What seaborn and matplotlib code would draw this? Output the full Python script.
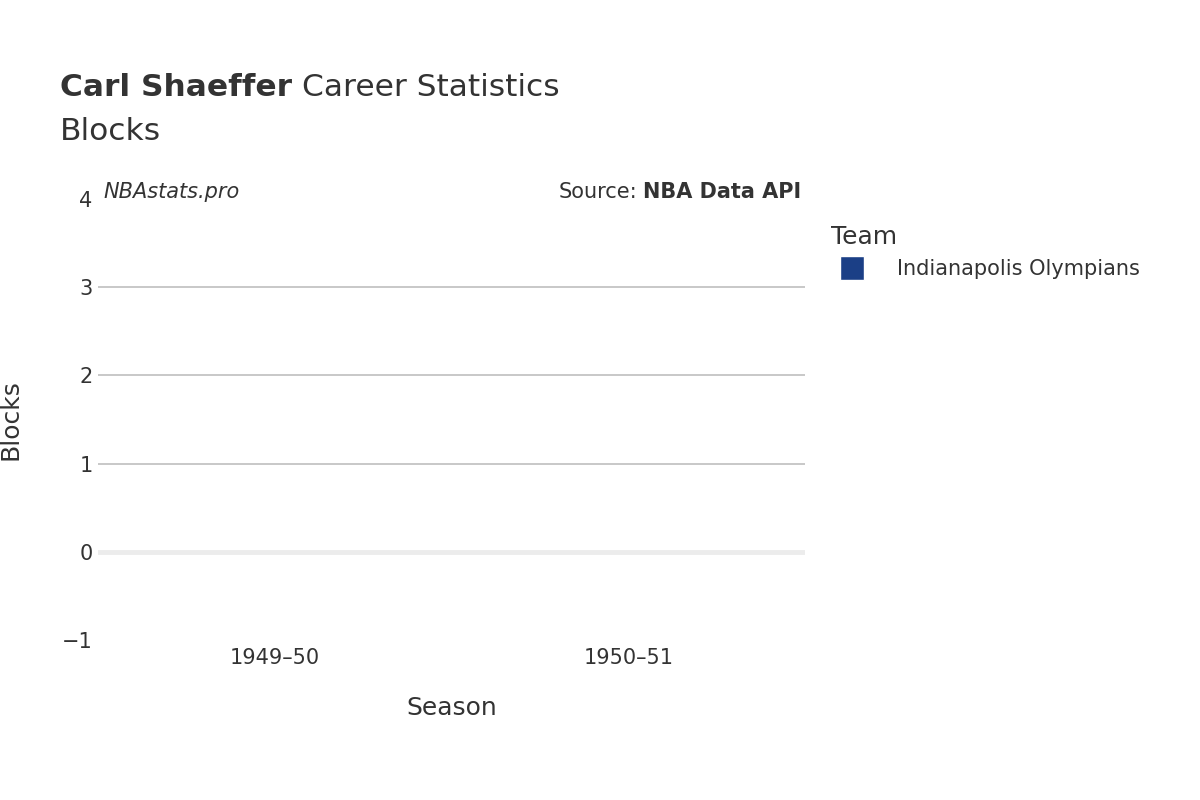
import matplotlib
matplotlib.use("Agg")
import matplotlib.pyplot as plt
import pandas as pd
import seaborn as sns
from matplotlib.lines import Line2D

seasons = ["1949\u201350", "1950\u201351"]
teams = ["Indianapolis Olympians", "Indianapolis Olympians"]
blocks = [0, 0]
team_colors = {"Indianapolis Olympians": "#1b3f86"}

df = pd.DataFrame({"Season": seasons, "Team": teams, "Blocks": blocks})

sns.set_theme(style="white", font="DejaVu Sans")
fig = plt.figure(figsize=(12, 8), dpi=100)
ax = fig.add_axes([98 / 1200, 0.2, 707 / 1200, 0.55125])

sns.barplot(data=df, x="Season", y="Blocks", hue="Team", palette=team_colors,
            ax=ax, legend=False, width=0.8, linewidth=0)

ax.set_ylim(-1, 4)
ax.set_yticks([-1, 0, 1, 2, 3, 4])
ax.set_yticklabels(["\u22121", "0", "1", "2", "3", "4"])
for y in [1, 2, 3]:
    ax.axhline(y, color="#c4c4c4", linewidth=1.3, zorder=0)
ax.axhline(0, color="#ececec", linewidth=3.5, zorder=3)
for s in ax.spines.values():
    s.set_visible(False)
ax.tick_params(axis="both", length=0, labelsize=15, colors="#333333", pad=4)
ax.tick_params(axis="x", pad=6)
ax.set_xlabel("Season", fontsize=18, color="#333333", labelpad=20)
ax.set_ylabel("Blocks", fontsize=18, color="#333333", labelpad=28)

ax.text(0.008, 1.015, "NBAstats.pro", transform=ax.transAxes, fontsize=15,
        style="italic", color="#333333", va="center", ha="left")
src = ax.text(0.995, 1.015, "NBA Data API", transform=ax.transAxes, fontsize=15,
              weight="bold", color="#333333", va="center", ha="right")

# title
t1 = fig.text(60 / 1200, 1 - 88 / 800, "Carl Shaeffer", fontsize=22.5, weight="bold",
              color="#333333", va="center")
fig.canvas.draw()
r = fig.canvas.get_renderer()
bb = t1.get_window_extent(r)
fig.text(bb.x1 / 1200 + 0.008, 1 - 88 / 800, "Career Statistics", fontsize=22.5,
         color="#333333", va="center")
fig.text(60 / 1200, 1 - 132 / 800, "Blocks", fontsize=22.5, color="#333333", va="center")
sb = src.get_window_extent(r)
fig.text(sb.x0 / 1200 - 0.005, (sb.y0 + sb.y1) / 1600, "Source:",
         fontsize=15, color="#333333", va="center", ha="right")

handles = [Line2D([0], [0], marker="s", color="w", markerfacecolor=team_colors[t],
                  markersize=17, label=t) for t in team_colors]
leg = fig.legend(handles=handles, title="Team", loc="upper left",
                 bbox_to_anchor=(812 / 1200, 1 - 206 / 800), frameon=False,
                 fontsize=15, title_fontsize=18, handletextpad=1.2, labelcolor="#333333")
leg.get_title().set_color("#333333")
leg._legend_box.align = "left"

fig.savefig("out.png", dpi=100)
